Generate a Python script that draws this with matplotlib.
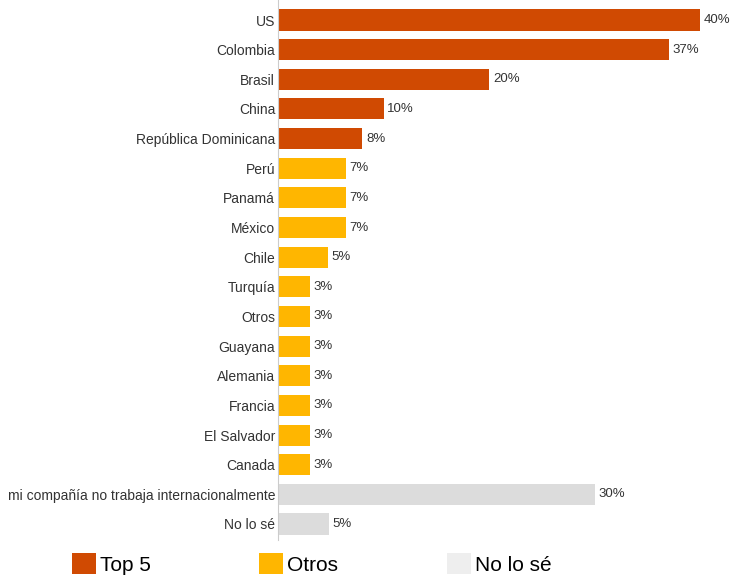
import matplotlib
matplotlib.use("Agg")
import matplotlib.pyplot as plt
from matplotlib.patches import Patch

plt.rcParams["font.family"] = ["Liberation Sans", "DejaVu Sans"]

categories = [
    "US", "Colombia", "Brasil", "China", "República Dominicana",
    "Perú", "Panamá", "México", "Chile", "Turquía", "Otros", "Guayana",
    "Alemania", "Francia", "El Salvador", "Canada",
    "mi compañía no trabaja internacionalmente", "No lo sé",
]
values = [40, 37, 20, 10, 8, 6.4, 6.4, 6.4, 4.7, 3, 3, 3, 3, 3, 3, 3, 30, 4.8]
labels = ["40%", "37%", "20%", "10%", "8%", "7%", "7%", "7%", "5%",
          "3%", "3%", "3%", "3%", "3%", "3%", "3%", "30%", "5%"]
groups = ["Top 5"] * 5 + ["Otros"] * 11 + ["No lo sé"] * 2

colors = {"Top 5": "#d04a02", "Otros": "#ffb600", "No lo sé": "#dcdcdc"}
legend_colors = {"Top 5": "#d04a02", "Otros": "#ffb600", "No lo sé": "#eeeeee"}

fig = plt.figure(figsize=(7.32, 5.77), dpi=100)
ax = fig.add_axes([278 / 732, 1 - 540 / 577, 454 / 732, 540 / 577])

ypos = list(range(len(categories)))
bars = ax.barh(ypos, values, height=0.71, color=[colors[g] for g in groups])

for bar, lab in zip(bars, labels):
    ax.text(bar.get_width() + 0.35, bar.get_y() + bar.get_height() / 2, lab,
            va="center", ha="left", fontsize=9.5, color="#333333")

ax.set_xlim(0, 43.0)
ax.set_ylim(17.54, -0.675)
ax.set_yticks(ypos, labels=categories)
ax.tick_params(axis="y", length=0, pad=2, labelsize=10, labelcolor="#333333")
ax.set_xticks([])
for side in ["top", "right", "bottom"]:
    ax.spines[side].set_visible(False)
ax.spines["left"].set_color("#cccccc")
ax.spines["left"].set_linewidth(0.8)

handles = [Patch(facecolor=legend_colors[g], edgecolor="none", label=g)
           for g in ["Top 5", "Otros", "No lo sé"]]
fig.legend(handles=handles, loc="center left", bbox_to_anchor=(72 / 732, 1 - 564 / 577),
           ncol=3, frameon=False, fontsize=15, handlelength=1.15, handleheight=1.15,
           handletextpad=0.2, columnspacing=5.2, borderpad=0, borderaxespad=0)

fig.savefig("out.png", dpi=100)
